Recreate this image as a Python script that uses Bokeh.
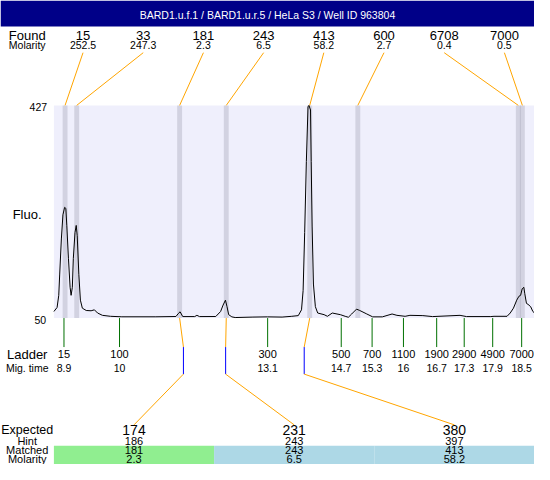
from bokeh.plotting import figure
from bokeh.models import Range1d
from bokeh.core.properties import value
from bokeh.embed import file_html
from bokeh.resources import INLINE

# ---------------- data ----------------
title_text = "BARD1.u.f.1 / BARD1.u.r.5 / HeLa S3 / Well ID 963804"

found_sizes = ["15", "33", "181", "243", "413", "600", "6708", "7000"]
found_molarity = ["252.5", "247.3", "2.3", "6.5", "58.2", "2.7", "0.4", "0.5"]
found_times = [8.873, 9.118, 11.286, 12.268, 14.026, 15.039, 18.419, 18.505]

ladder_sizes = ["15", "100", "300", "500", "700", "1100", "1900", "2900", "4900", "7000"]
ladder_times = [8.85, 10.02, 13.14, 14.69, 15.34, 16.00, 16.70, 17.28, 17.88, 18.49]
ladder_time_labels = ["8.9", "10", "13.1", "14.7", "15.3", "16", "16.7", "17.3", "17.9", "18.5"]

expected_sizes = ["174", "231", "380"]
hint_sizes = ["186", "243", "397"]
hint_times = [11.366, 12.255, 13.910]
matched_sizes = ["181", "243", "413"]
matched_molarity = ["2.3", "6.5", "58.2"]
matched_found_index = [2, 3, 4]
matched_colors = ["#90EE90", "#ADD8E6", "#ADD8E6"]

fluo_min, fluo_max = 50, 427
fluo_tick_labels = ["427", "50"]

trace_time = [8.638, 8.705, 8.740, 8.760, 8.795, 8.828, 8.863, 8.889, 8.910, 8.944,
              8.979, 9.000, 9.026, 9.047, 9.082, 9.108, 9.129, 9.163, 9.196, 9.237,
              9.319, 9.421, 9.491, 9.558, 9.660, 9.830, 10.069, 10.785, 11.208, 11.255,
              11.296, 11.352, 11.603, 11.650, 11.705, 12.047, 12.149, 12.202, 12.251, 12.284,
              12.319, 12.386, 12.456, 12.830, 13.137, 13.444, 13.648, 13.785, 13.853, 13.887,
              13.920, 13.955, 13.990, 14.010, 14.043, 14.057, 14.077, 14.104, 14.145, 14.194,
              14.329, 14.399, 14.501, 14.671, 14.773, 14.840, 14.910, 15.012, 15.080, 15.217,
              15.352, 15.556, 15.761, 15.863, 16.035, 16.137, 16.409, 16.614, 17.192, 17.329,
              17.840, 17.908, 18.182, 18.249, 18.317, 18.386, 18.433, 18.468, 18.501, 18.536,
              18.556, 18.591, 18.624, 18.679, 18.726, 18.761]
trace_fluo = [61.6, 68.8, 90.3, 128.0, 190.2, 233.0, 246.2, 244.5, 213.6, 155.9,
              104.5, 90.3, 104.5, 155.9, 201.7, 214.2, 196.0, 127.5, 81.7, 67.5,
              63.4, 62.9, 64.6, 58.9, 54.8, 53.1, 52.2, 52.2, 52.7, 57.7,
              61.1, 52.6, 52.6, 54.8, 52.6, 52.7, 61.6, 73.1, 81.7, 70.2,
              56.0, 52.1, 50.9, 51.7, 52.1, 51.7, 53.1, 54.3, 64.6, 98.8,
              201.7, 327.3, 424.4, 427.0, 418.8, 327.3, 213.1, 110.3, 70.2, 58.9,
              56.0, 53.1, 58.9, 56.0, 53.1, 51.4, 57.2, 65.8, 63.4, 57.7,
              52.1, 52.1, 57.2, 54.8, 53.1, 54.8, 54.3, 52.6, 54.8, 52.6,
              52.6, 53.1, 53.1, 58.9, 67.5, 81.7, 88.6, 90.3, 101.8, 104.5,
              93.2, 76.0, 74.3, 70.2, 61.6, 58.9]

# ---------------- layout (page pixels -> data units) ----------------
T0, T_PER_PX = 7.513, 0.02045
F0, F_PER_PX = 612.93, 1.71364
TEXT_SHIFT = 3.5  # compensate for the renderer's baseline offset


def lx(px):
    return T0 + T_PER_PX * px


def ly(py):
    return F0 - F_PER_PX * py


def ty(py):
    return ly(py - TEXT_SHIFT)


FONT = value("Liberation Sans")

p = figure(width=534, height=464,
           x_range=Range1d(lx(0), lx(550)), y_range=Range1d(ly(480), ly(0)),
           output_backend="svg", toolbar_location=None, min_border=0,
           x_axis_type=None, y_axis_type=None, outline_line_color=None,
           background_fill_color="white", border_fill_color="white")

# title bar
p.quad(left=[lx(0)], right=[lx(550)], bottom=[ly(27)], top=[ly(0)],
       fill_color="#000088", line_color=None)
p.text(x=[lx(275)], y=[ty(18.5)], text=[title_text], text_font=FONT,
       text_font_size="10.5px", text_color="white", text_align="center",
       text_baseline="alphabetic")

# plot area
plot_left = lx(55)
plot_right = lx(550)
p.quad(left=[plot_left], right=[plot_right], bottom=[fluo_min], top=[fluo_max],
       fill_color="#EFEFFC", line_color=None)
p.vbar(x=found_times, width=5 * T_PER_PX, bottom=fluo_min, top=fluo_max,
       fill_color="#7a7a90", fill_alpha=0.25, line_color=None)
p.line(trace_time, trace_fluo, line_color="black", line_width=1)

# row labels (left column)
row_label_x = lx(27.5)


def row_text(lbl, py, size):
    p.text(x=[row_label_x], y=[ty(py)], text=[lbl], text_font=FONT,
           text_font_size=size, text_align="center", text_baseline="alphabetic",
           text_color="black")


# found rows
found_cols = [lx(85 + 62 * i) for i in range(len(found_sizes))]
row_text("Found", 39.5, "13px")
row_text("Molarity", 50, "10.5px")
p.text(x=found_cols, y=[ty(39.5)] * len(found_cols), text=found_sizes, text_font=FONT,
       text_font_size="13px", text_align="center", text_baseline="alphabetic")
p.text(x=found_cols, y=[ty(50)] * len(found_cols), text=found_molarity, text_font=FONT,
       text_font_size="10.5px", text_align="center", text_baseline="alphabetic")
p.segment(x0=found_cols, y0=[ly(54)] * len(found_cols), x1=found_times,
          y1=[fluo_max] * len(found_cols), line_color="orange", line_width=1)

# y labels
p.text(x=[lx(48), lx(47)], y=[ty(113.5), ty(333.5)], text=fluo_tick_labels,
       text_font=FONT, text_font_size="10.5px", text_align="right",
       text_baseline="alphabetic")
p.text(x=[lx(12.5)], y=[ty(225)], text=["Fluo."], text_font=FONT,
       text_font_size="13px", text_align="left", text_baseline="alphabetic")

# ladder
p.segment(x0=ladder_times, y0=[fluo_min] * len(ladder_times), x1=ladder_times,
          y1=[ly(358.5)] * len(ladder_times), line_color="#007000", line_width=1)
row_text("Ladder", 370, "13px")
row_text("Mig. time", 383.5, "10.5px")
p.text(x=ladder_times, y=[ty(369.5)] * len(ladder_times), text=ladder_sizes,
       text_font=FONT, text_font_size="11px", text_align="center",
       text_baseline="alphabetic")
p.text(x=ladder_times, y=[ty(383.5)] * len(ladder_times), text=ladder_time_labels,
       text_font=FONT, text_font_size="10.5px", text_align="center",
       text_baseline="alphabetic")

# expected table
exp_cols = [lx(55 + 165 * (i + 0.5)) for i in range(len(expected_sizes))]
cell_l = [lx(55 + 165 * i) for i in range(len(expected_sizes))]
cell_r = [lx(55 + 165 * (i + 1)) for i in range(len(expected_sizes))]
p.quad(left=cell_l, right=cell_r, bottom=[ly(480)] * 3, top=[ly(460.5)] * 3,
       fill_color=matched_colors, line_color=None)

matched_found_t = [found_times[i] for i in matched_found_index]
p.segment(x0=matched_found_t, y0=[fluo_min] * 3, x1=hint_times, y1=[ly(358.5)] * 3,
          line_color="orange", line_width=1)
p.segment(x0=hint_times, y0=[ly(358.5)] * 3, x1=hint_times, y1=[ly(386.5)] * 3,
          line_color="#0000FF", line_width=1)
p.segment(x0=hint_times, y0=[ly(386.5)] * 3, x1=exp_cols, y1=[ly(439)] * 3,
          line_color="orange", line_width=1)

rows_y = [447.5, 459, 469, 477.5]
row_text("Expected", rows_y[0], "12.5px")
row_text("Hint", rows_y[1], "11px")
row_text("Matched", rows_y[2], "11px")
row_text("Molarity", rows_y[3], "11px")
for rows, py, size in [(expected_sizes, rows_y[0], "14px"), (hint_sizes, rows_y[1], "11px"),
                       (matched_sizes, rows_y[2], "11px"), (matched_molarity, rows_y[3], "11px")]:
    p.text(x=exp_cols, y=[ty(py)] * 3, text=rows, text_font=FONT, text_font_size=size,
           text_align="center", text_baseline="alphabetic")

open("out.html", "w").write(file_html(p, INLINE))
